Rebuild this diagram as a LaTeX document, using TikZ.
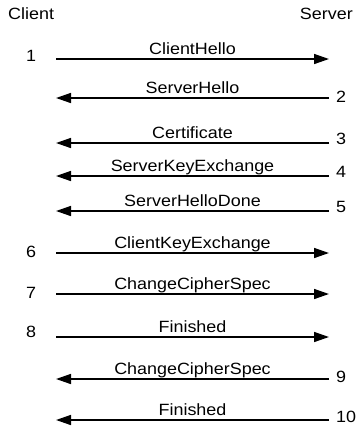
\documentclass[tikz,border=0pt]{standalone}
\usepackage{fontspec}
\setmainfont{Liberation Sans}[FakeStretch=1.1]
\usetikzlibrary{arrows.meta}
\begin{document}
\begin{tikzpicture}[x=1pt,y=-1pt,
  msg/.style={line width=1.5pt, -{Triangle[length=15pt,width=10pt]}},
  lbl/.style={font=\fontsize{16.3}{19}\selectfont, anchor=base, inner sep=0pt, midway, yshift=4.5pt},
  txt/.style={font=\fontsize{16.3}{19}\selectfont, inner sep=0pt},
  lnum/.style={txt, anchor=base},
  rnum/.style={txt, anchor=base west}]
\useasboundingbox (0,0) rectangle (358,429);

% parties
\node[txt, anchor=base west] (client) at (8,19) {Client};
\node[txt, anchor=base east] (server) at (353,19) {Server};

% message end points: c = client side, s = server side
\foreach \i/\y in {1/59, 2/98, 3/143, 4/176, 5/211, 6/253, 7/294, 8/337, 9/379, 10/420} {
  \coordinate (c\i) at (56,\y);
  \coordinate (s\i) at (329,\y);
}

% client -> server
\draw[msg] (c1) -- node[lbl] (m1) {ClientHello} (s1);
\draw[msg] (c6) -- node[lbl] (m6) {ClientKeyExchange} (s6);
\draw[msg] (c7) -- node[lbl] (m7) {ChangeCipherSpec} (s7);
\draw[msg] (c8) -- node[lbl] (m8) {Finished} (s8);

% server -> client
\draw[msg] (s2) -- node[lbl] (m2) {ServerHello} (c2);
\draw[msg] (s3) -- node[lbl] (m3) {Certificate} (c3);
\draw[msg] (s4) -- node[lbl] (m4) {ServerKeyExchange} (c4);
\draw[msg] (s5) -- node[lbl] (m5) {ServerHelloDone} (c5);
\draw[msg] (s9) -- node[lbl] (m9) {ChangeCipherSpec} (c9);
\draw[msg] (s10) -- node[lbl] (m10) {Finished} (c10);

% step numbers
\node[lnum] (n1) at (31,61) {1};
\node[lnum] (n6) at (31,257) {6};
\node[lnum] (n7) at (31,298) {7};
\node[lnum] (n8) at (31,337) {8};
\node[rnum] (n2) at (336,102) {2};
\node[rnum] (n3) at (336,144) {3};
\node[rnum] (n4) at (336,177) {4};
\node[rnum] (n5) at (336,212) {5};
\node[rnum] (n9) at (336,382) {9};
\node[rnum] (n10) at (336,422) {10};
\end{tikzpicture}
\end{document}
